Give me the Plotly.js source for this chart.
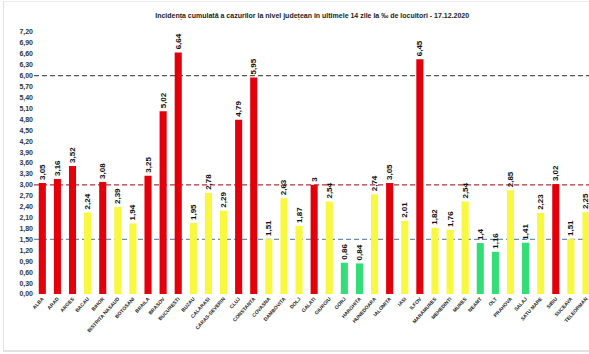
<!DOCTYPE html>
<html>
<head>
<meta charset="utf-8">
<script src="https://cdn.plot.ly/plotly-3.0.1.min.js"></script>
<style>
  html, body { margin: 0; padding: 0; background: #fff; overflow: hidden; }
  #wrap { position: relative; width: 589px; height: 354px; }
  #chart { width: 589px; height: 354px; }
  #frame { position: absolute; left: 3px; top: 1px; width: 600px; height: 348px;
           border-left: 1px solid #e2e2e2; border-top: 1px solid #ececec; border-bottom: 2px solid #e2e2e2;
           pointer-events: none; }
</style>
</head>
<body>
<div id="wrap">
  <div id="chart"></div>
  <div id="frame"></div>
</div>
<script>
const counties = ["ALBA","ARAD","ARGES","BACAU","BIHOR","BISTRITA NASAUD","BOTOSANI","BRAILA","BRASOV","BUCURESTI",
  "BUZAU","CALARASI","CARAS-SEVERIN","CLUJ","CONSTANTA","COVASNA","DAMBOVITA","DOLJ","GALATI","GIURGIU",
  "GORJ","HARGHITA","HUNEDOARA","IALOMITA","IASI","ILFOV","MARAMURES","MEHEDINTI","MURES","NEAMT",
  "OLT","PRAHOVA","SALAJ","SATU MARE","SIBIU","SUCEAVA","TELEORMAN"];
const incidence = [3.05,3.16,3.52,2.24,3.08,2.39,1.94,3.25,5.02,6.64,
  1.95,2.78,2.29,4.79,5.95,1.51,2.63,1.87,3,2.54,
  0.86,0.84,2.74,3.05,2.01,6.45,1.82,1.76,2.54,1.4,
  1.16,2.85,1.41,2.23,3.02,1.51,2.25];
const thresholds = [1.5, 3, 6];
const titleText = "Incidența cumulată a cazurilor la nivel județean în ultimele 14 zile la ‰ de locuitori - 17.12.2020";

const RED = "#e3000b", YELLOW = "#f8f840", GREEN = "#33dd78";
const colors = incidence.map(v => v >= thresholds[1] ? RED : (v >= thresholds[0] ? YELLOW : GREEN));
const labels = incidence.map(v => String(v).replace('.', ','));
const FONT = '"Liberation Sans", Arial, sans-serif';

const trace = {
  type: 'bar',
  x: counties,
  y: incidence,
  marker: { color: colors, line: { width: 0 } },
  text: labels,
  textposition: 'outside',
  textangle: -90,
  constraintext: 'none',
  cliponaxis: false,
  textfont: { family: FONT, size: 8, color: '#111', weight: 'bold' },
  hoverinfo: 'x+y'
};

const lineStyles = [
  { y: thresholds[2], color: '#555555' },
  { y: thresholds[1], color: '#b8323a' },
  { y: thresholds[0], color: '#6f8fae' }
];
const shapes = lineStyles.map(s => ({
  type: 'line', xref: 'paper', yref: 'y', x0: 0, x1: 1, y0: s.y, y1: s.y, layer: 'below',
  line: { color: s.color, width: 1.3, dash: '5px,3px' }
}));

const layout = {
  width: 589, height: 354,
  margin: { l: 34, r: 0, t: 32, b: 60 },
  paper_bgcolor: '#fff', plot_bgcolor: 'rgba(0,0,0,0)',
  separators: ', ',
  bargap: 0.53,
  showlegend: false,
  title: { text: titleText, x: 0.53, xanchor: 'center', y: 0.957, yanchor: 'middle',
           font: { family: FONT, size: 7, color: '#222', weight: 'bold' } },
  xaxis: {
    range: [-0.55, 36.2], showgrid: false, zeroline: false, showline: false,
    tickangle: -48, ticks: '', automargin: false,
    tickfont: { family: FONT, size: 5, color: '#222', weight: 'bold' }
  },
  yaxis: {
    range: [0, 7.2], tick0: 0, dtick: 0.3, tickformat: '.2f',
    showgrid: false, zeroline: false, showline: false, ticks: '', automargin: false,
    tickfont: { family: FONT, size: 7, color: '#333', weight: 'bold' }
  },
  shapes: shapes
};

Plotly.newPlot('chart', [trace], layout, { displayModeBar: false, staticPlot: true });
</script>
</body>
</html>
